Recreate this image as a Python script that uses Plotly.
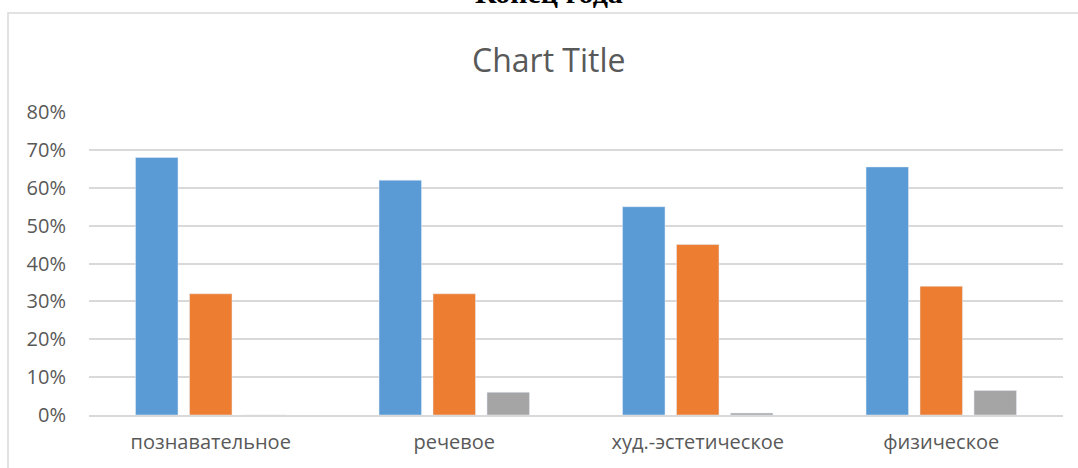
import plotly.graph_objects as go

categories = ["познавательное", "речевое", "худ.-эстетическое", "физическое"]
series1 = [0.68, 0.62, 0.55, 0.655]
series2 = [0.32, 0.32, 0.45, 0.34]
series3 = [0.0, 0.06, 0.005, 0.065]
tick_vals = [0, 0.1, 0.2, 0.3, 0.4, 0.5, 0.6, 0.7, 0.8]
tick_text = ["0%", "10%", "20%", "30%", "40%", "50%", "60%", "70%", "80%"]

W, H = 1078, 468
L, R, T, B = 89, 15, 112, 53
pw, ph = W - L - R, H - T - B

def px_to_x(px):
    return (px - L) / pw

def px_to_y(py):
    return 1 - (py - T) / ph

fig = go.Figure()
fig.add_bar(x=categories, y=series1, marker_color="#5B9BD5", name="Ряд 1")
fig.add_bar(x=categories, y=series2, marker_color="#ED7D31", name="Ряд 2")
fig.add_bar(x=categories, y=series3, marker_color="#A5A5A5", name="Ряд 3")

fig.update_layout(
    width=W, height=H,
    margin=dict(l=L, r=R, t=T, b=B),
    paper_bgcolor="white", plot_bgcolor="white",
    barmode="group", bargap=0.335, bargroupgap=0.213,
    showlegend=False,
    font=dict(family="Open Sans", color="#595959", size=20),
)
fig.update_yaxes(range=[0, 0.8], tickvals=tick_vals, ticktext=tick_text,
                 showgrid=True, gridcolor="#d9d9d9", gridwidth=1.5,
                 zeroline=False, showline=False, ticks="", ticklabelstandoff=22,
                 tickfont=dict(size=20, color="#595959"))
fig.update_xaxes(showgrid=False, showline=True, linecolor="#d9d9d9", linewidth=1.5,
                 ticks="", ticklabelstandoff=8, tickfont=dict(size=20, color="#595959"))

# outer chart border
fig.add_shape(type="rect", xref="paper", yref="paper",
              x0=px_to_x(8), x1=px_to_x(1090), y0=px_to_y(480), y1=px_to_y(13),
              line=dict(color="#d9d9d9", width=1.5), fillcolor="rgba(0,0,0,0)", layer="below")

fig.add_annotation(text="Chart Title", xref="paper", yref="paper",
                   x=px_to_x(549), y=px_to_y(59), xanchor="center", yanchor="middle",
                   showarrow=False, font=dict(family="Open Sans", size=32, color="#595959"))

fig.add_annotation(text="<b>Конец года</b>", xref="paper", yref="paper",
                   x=px_to_x(549), y=px_to_y(11), xanchor="center", yanchor="bottom",
                   showarrow=False, font=dict(family="Liberation Serif", size=30, color="black"))

fig.write_html("out.html", config={"displayModeBar": False},
               post_script="document.body.style.margin='0';")
